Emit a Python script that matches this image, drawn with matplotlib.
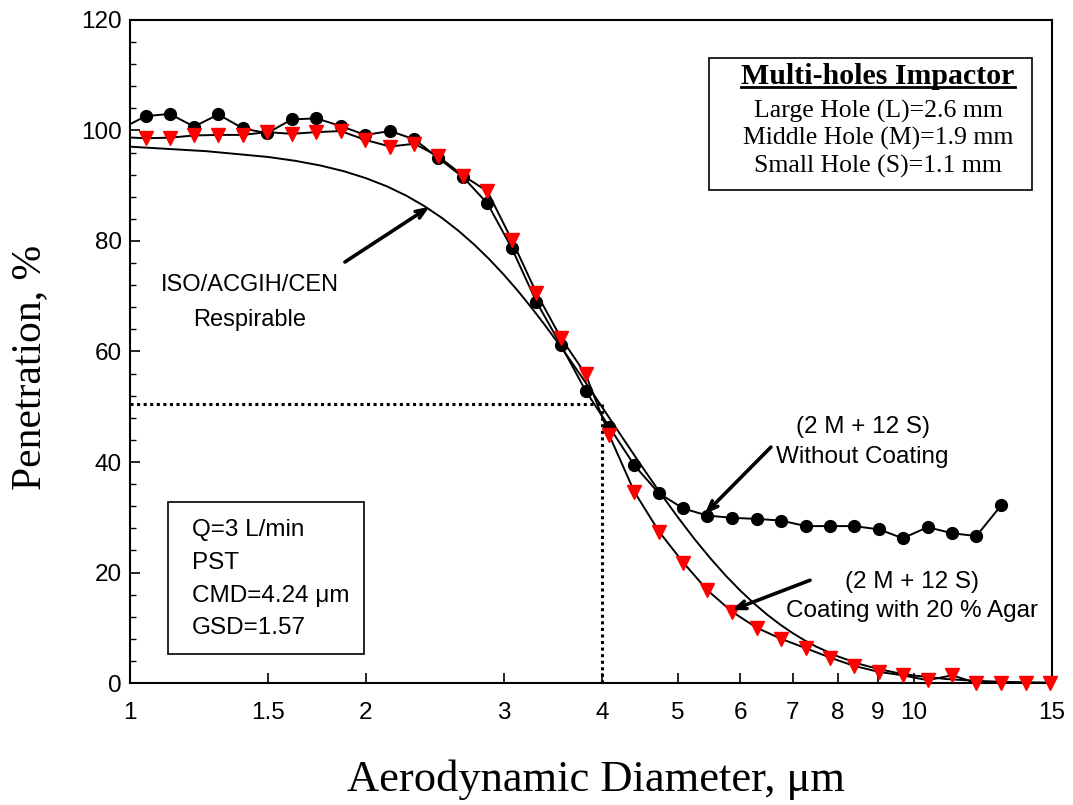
import numpy as np
import matplotlib
matplotlib.use("Agg")
import matplotlib.pyplot as plt
from matplotlib.ticker import FixedLocator, NullLocator, MultipleLocator
from matplotlib.patches import Rectangle
from matplotlib.lines import Line2D

# ---------------- data ----------------
diam_um = [0.974, 1.047, 1.124, 1.207, 1.296, 1.393, 1.495, 1.608, 1.729, 1.857,
           1.996, 2.146, 2.306, 2.474, 2.662, 2.857, 3.069, 3.299, 3.544, 3.812,
           4.088, 4.399, 4.730, 5.079, 5.451, 5.861, 6.302, 6.768, 7.278, 7.816,
           8.387, 9.027, 9.676, 10.41, 11.19, 12.01, 12.93, 13.89, 14.92]

without_coating = [100.3, 102.6, 103.0, 100.7, 102.9, 100.4, 99.5, 102.0, 102.2, 100.8,
                   99.2, 99.9, 98.4, 95.0, 91.5, 86.8, 78.7, 69.0, 61.2, 52.9,
                   46.3, 39.4, 34.3, 31.6, 30.3, 29.9, 29.7, 29.4, 28.4, 28.4,
                   28.4, 27.8, 26.2, 28.2, 27.1, 26.6, 32.2]

agar_coating = [98.8, 98.6, 98.7, 99.1, 99.2, 99.2, 99.7, 99.4, 99.7, 99.9,
                98.3, 97.1, 97.6, 95.3, 91.8, 89.0, 80.2, 70.6, 62.5, 55.9,
                44.8, 34.6, 27.4, 21.8, 16.8, 12.9, 10.0, 8.0, 6.3, 4.6,
                3.1, 2.0, 1.4, 0.5, 1.4, 0.0, 0.0, 0.0, 0.0]

resp_diam = [1.0, 1.25, 1.5, 1.625, 1.75, 1.875, 2.0, 2.125, 2.25, 2.375, 2.5, 2.625,
             2.75, 2.875, 3.0, 3.125, 3.25, 3.375, 3.5, 3.625, 3.75, 3.875, 4.0, 4.25,
             4.5, 4.75, 5.0, 5.25, 5.5, 5.75, 6.0, 6.25, 6.5, 6.75, 7.0, 7.25, 7.5,
             8.0, 8.5, 9.0, 9.5, 10.0, 11.0, 12.0, 13.0, 14.0, 15.0]
resp_pen = [97.07, 96.26, 95.21, 94.51, 93.66, 92.62, 91.37, 89.91, 88.22, 86.30, 84.17,
            81.83, 79.32, 76.65, 73.85, 70.96, 67.98, 64.96, 61.92, 58.88, 55.86, 52.89,
            49.97, 44.37, 39.14, 34.33, 29.97, 26.04, 22.56, 19.47, 16.77, 14.41, 12.36,
            10.58, 9.05, 7.73, 6.60, 4.81, 3.49, 2.54, 1.85, 1.35, 0.72, 0.39, 0.21,
            0.12, 0.07]

xtick_vals = [1, 1.5, 2, 3, 4, 5, 6, 7, 8, 9, 10, 15]
xtick_labels = ["1", "1.5", "2", "3", "4", "5", "6", "7", "8", "9", "10", "15"]

d50 = 4.0
p50 = 50.5

# ---------------- figure ----------------
SANS = ["Liberation Sans", "DejaVu Sans"]
SERIF = ["Liberation Serif", "DejaVu Serif"]

fig = plt.figure(figsize=(10.73, 8.05), dpi=100)
ax = fig.add_axes([0.12116, 0.15155, 0.85927, 0.82361])
ax.set_xscale("log")
ax.set_xlim(1, 15)
ax.set_ylim(0, 120)

ax.xaxis.set_major_locator(FixedLocator(xtick_vals))
ax.xaxis.set_minor_locator(NullLocator())
ax.set_xticklabels(xtick_labels, fontfamily=SANS, fontsize=17.5)
ax.yaxis.set_major_locator(MultipleLocator(20))
ax.yaxis.set_minor_locator(MultipleLocator(4))
for lab in ax.get_yticklabels():
    lab.set_fontfamily(SANS)
    lab.set_fontsize(17.5)
ax.tick_params(which="major", direction="in", length=7, width=1.2, color="k")
ax.tick_params(which="minor", direction="in", length=4, width=1.0, color="k")
ax.tick_params(axis="x", pad=14)
ax.tick_params(axis="y", pad=6)
for s in ax.spines.values():
    s.set_linewidth(1.5)

# respirable convention curve
ax.plot(resp_diam, resp_pen, color="k", lw=1.4, zorder=2, solid_joinstyle="round")

# dotted guides
ax.plot([1, d50], [p50, p50], color="k", lw=2.2, dashes=(1, 1.15), zorder=2)
ax.plot([d50, d50], [0, p50], color="k", lw=2.2, dashes=(1, 1.15), zorder=2)

# measured series
xb = np.array(diam_um[:len(without_coating)])
yb = np.array(without_coating)
xr = np.array(diam_um[:len(agar_coating)])
yr = np.array(agar_coating)

ax.plot(xb, yb, color="k", lw=1.4, zorder=3)
ax.plot(xr, yr, color="k", lw=1.4, zorder=3)
mb = xb >= 1
mr = xr >= 1
ax.plot(xb[mb], yb[mb], ls="none", marker="o", ms=8.5, color="k", zorder=4, clip_on=False)
ax.plot(xr[mr], yr[mr], ls="none", marker="v", ms=9.5, color="red",
        markeredgecolor="red", zorder=5, clip_on=False)

# annotations
arrow = dict(arrowstyle="->,head_length=0.7,head_width=0.28", lw=2.6, color="k",
             shrinkA=0, shrinkB=0)
ax.annotate("", xy=(2.41, 86.2), xytext=(1.88, 76.2), arrowprops=arrow, zorder=6)
ax.annotate("", xy=(5.41, 30.6), xytext=(6.57, 42.7), arrowprops=arrow, zorder=6)
ax.annotate("", xy=(5.86, 13.2), xytext=(7.37, 18.6), arrowprops=arrow, zorder=6)

ax.text(1.4225, 72.0, "ISO/ACGIH/CEN", ha="center", va="center", fontsize=17, fontfamily=SANS)
ax.text(1.4225, 65.7, "Respirable", ha="center", va="center", fontsize=17, fontfamily=SANS)
ax.text(8.60, 46.4, "(2 M + 12 S)", ha="center", va="center", fontsize=17.5, fontfamily=SANS)
ax.text(8.60, 40.85, "Without Coating", ha="center", va="center", fontsize=17.5, fontfamily=SANS)
ax.text(9.93, 18.33, "(2 M + 12 S)", ha="center", va="center", fontsize=17.5, fontfamily=SANS)
ax.text(9.93, 13.09, "Coating with 20 % Agar", ha="center", va="center", fontsize=17.5,
        fontfamily=SANS)

# left info box
ax.add_patch(Rectangle((0.0412, 0.0437), 0.2126, 0.2293, transform=ax.transAxes,
                       facecolor="white", edgecolor="k", lw=1.2, zorder=6))
for txt, yy in [("Q=3 L/min", 0.2308), ("PST", 0.1810),
                ("CMD=4.24 \u03bcm", 0.1312), ("GSD=1.57", 0.0830)]:
    ax.text(0.0672, yy, txt, transform=ax.transAxes, ha="left", va="center",
            fontsize=17.5, fontfamily=SANS, zorder=7)

# right info box
ax.add_patch(Rectangle((0.6280, 0.7436), 0.3503, 0.1991, transform=ax.transAxes,
                       facecolor="white", edgecolor="k", lw=1.2, zorder=6))
title = ax.text(0.8113, 0.915, "Multi-holes Impactor", transform=ax.transAxes,
                ha="center", va="center", fontsize=21.5, fontweight="bold",
                fontfamily=SERIF, zorder=7)
for txt, yy in [("Large Hole (L)=2.6 mm", 0.8620), ("Middle Hole (M)=1.9 mm", 0.8215),
                ("Small Hole (S)=1.1 mm", 0.7795)]:
    ax.text(0.8113, yy, txt, transform=ax.transAxes, ha="center", va="center",
            fontsize=18.5, fontfamily=SERIF, zorder=7)

# axis labels
fig.text(30 / 1073, 1 - 367 / 805, "Penetration, %", rotation=90, ha="center",
         va="center", fontsize=30, fontfamily=SERIF)
fig.text(596 / 1073, 1 - 780 / 805, "Aerodynamic Diameter, \u03bcm", ha="center",
         va="center", fontsize=32, fontfamily=SERIF)

# underline the box title
fig.canvas.draw()
bb = title.get_window_extent(renderer=fig.canvas.get_renderer())
inv = fig.transFigure.inverted()
(x0, y0), (x1, _) = inv.transform([(bb.x0, bb.y0 + 2.5), (bb.x1, bb.y0 + 2.5)])
fig.add_artist(Line2D([x0, x1], [y0, y0], color="k", lw=2.0, transform=fig.transFigure,
                      zorder=8))

fig.savefig("out.png", dpi=100)
